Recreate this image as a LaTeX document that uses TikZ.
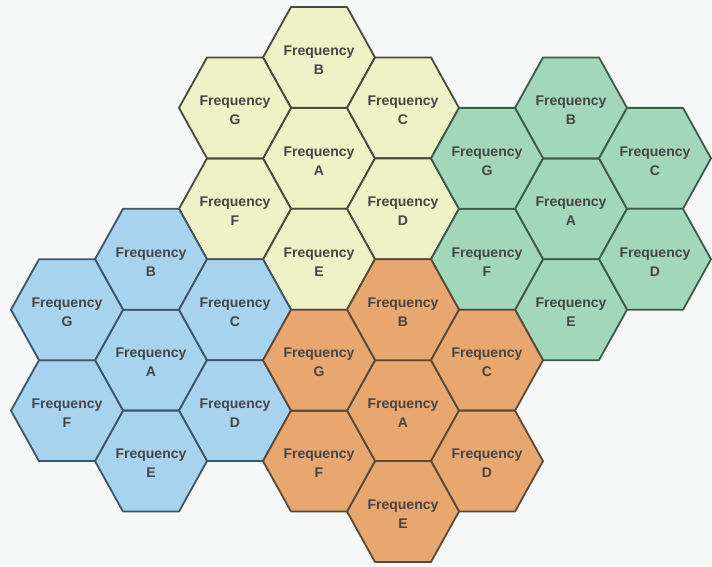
\documentclass[tikz,border=0pt]{standalone}
\usepackage{fontspec}
\setmainfont{Liberation Sans}
\definecolor{bg}{HTML}{F6F8F7}
\definecolor{yfill}{HTML}{EFF1C6}
\definecolor{ydraw}{HTML}{4A4A3C}
\definecolor{gfill}{HTML}{A2D7BA}
\definecolor{gdraw}{HTML}{3E5A4A}
\definecolor{bfill}{HTML}{A8D3EE}
\definecolor{bdraw}{HTML}{3E5468}
\definecolor{ofill}{HTML}{E8A76E}
\definecolor{odraw}{HTML}{5A4838}
\definecolor{txt}{HTML}{454545}
\tikzset{
  hexline/.style={line width=1.8pt, line join=round},
  lbl/.style={align=center, text=txt, font=\fontsize{14}{19}\selectfont\bfseries, inner sep=0pt}
}
\newcommand\hexcell[6]{%
  \pgfmathsetmacro\hcx{67+84*(#1)}%
  \pgfmathsetmacro\hcy{7+50.45*(#2)}%
  \draw[hexline, fill=#3, draw=#4] (\hcx-56,\hcy) -- (\hcx-28,\hcy-50.45) -- (\hcx+28,\hcy-50.45) -- (\hcx+56,\hcy) -- (\hcx+28,\hcy+50.45) -- (\hcx-28,\hcy+50.45) -- cycle;
  \node[lbl] (#6) at (\hcx,\hcy+2.5) {Frequency\\#5};
}
\newcommand\hexcluster[5]{%
  \hexcell{#1}{#2}{#3}{#4}{A}{#5A}
  \hexcell{#1}{#2-2}{#3}{#4}{B}{#5B}
  \hexcell{#1+1}{#2-1}{#3}{#4}{C}{#5C}
  \hexcell{#1+1}{#2+1}{#3}{#4}{D}{#5D}
  \hexcell{#1}{#2+2}{#3}{#4}{E}{#5E}
  \hexcell{#1-1}{#2+1}{#3}{#4}{F}{#5F}
  \hexcell{#1-1}{#2-1}{#3}{#4}{G}{#5G}
}
\begin{document}
\begin{tikzpicture}[x=1pt, y=-1pt]
  \fill[bg] (0,0) rectangle (712,567);
  \useasboundingbox (0,0) rectangle (712,567);
  \hexcluster{3}{3}{yfill}{ydraw}{y}
  \hexcluster{6}{4}{gfill}{gdraw}{g}
  \hexcluster{1}{7}{bfill}{bdraw}{b}
  \hexcluster{4}{8}{ofill}{odraw}{o}
\end{tikzpicture}
\end{document}
